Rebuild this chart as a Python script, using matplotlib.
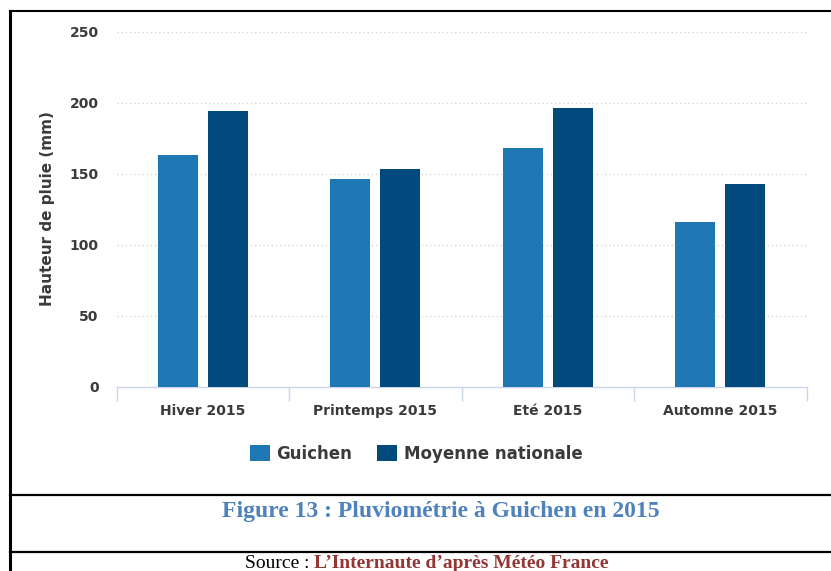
import matplotlib.pyplot as plt
import numpy as np
from matplotlib.lines import Line2D
import matplotlib.patches as mpatches

categories = ["Hiver 2015", "Printemps 2015", "Eté 2015", "Automne 2015"]
guichen = [163, 146, 168, 116]
moyenne = [194, 153, 196, 143]
series_names = ["Guichen", "Moyenne nationale"]
colors = ["#1f78b4", "#024a7d"]
yticks = [0, 50, 100, 150, 200, 250]

W, H = 831, 571
fig = plt.figure(figsize=(W / 100, H / 100), dpi=100)
font = "DejaVu Sans"
txtcol = "#3a3a3a"

ax = fig.add_axes([116.7 / W, 1 - 387 / H, 690 / W, 355.5 / H])
x = np.arange(len(categories))
bw = 40 / 172.5
off = 25 / 172.5
ax.bar(x - off, guichen, bw, color=colors[0], zorder=3)
ax.bar(x + off, moyenne, bw, color=colors[1], zorder=3)

ax.set_xlim(-0.5, len(categories) - 0.5)
ax.set_ylim(0, 250)
ax.set_yticks(yticks)
ax.set_yticklabels([str(v) for v in yticks], fontfamily=font, fontweight="bold",
                   fontsize=10, color=txtcol)
ax.tick_params(axis="y", length=0, pad=13)

ax.set_xticks(x)
ax.set_xticklabels(categories, fontfamily=font, fontweight="bold", fontsize=10,
                   color=txtcol)
ax.set_xticks(np.arange(len(categories) + 1) - 0.5, minor=True)
ax.tick_params(axis="x", which="major", length=0, pad=12)
ax.tick_params(axis="x", which="minor", length=10, color="#ccd6eb", width=1)

for v in yticks[1:]:
    ax.axhline(v, color="#d5d5d5", lw=1, ls=(0, (1, 2)), zorder=1)

for s in ["top", "right", "left"]:
    ax.spines[s].set_visible(False)
ax.spines["bottom"].set_color("#ccd6eb")
ax.spines["bottom"].set_linewidth(1)

fig.text(48 / W, 1 - 209 / H, "Hauteur de pluie (mm)", rotation=90,
         ha="center", va="center", fontfamily=font, fontweight="bold",
         fontsize=11, color=txtcol)

recs = [mpatches.Rectangle((0, 0), 1, 1, fc=c) for c in colors]
fig.legend(recs, series_names, loc="center", bbox_to_anchor=(416 / W, 1 - 454 / H),
           ncol=2, frameon=False, handlelength=1.2, handleheight=1.1,
           handletextpad=0.4, columnspacing=1.5, labelcolor=txtcol,
           prop={"family": font, "weight": "bold", "size": 12})

# frame lines
fig.add_artist(Line2D([10 / W, 1], [1 - 11 / H, 1 - 11 / H], color="black", lw=1.5))
fig.add_artist(Line2D([10 / W, 10 / W], [0, 1 - 11 / H], color="black", lw=2.2))
fig.add_artist(Line2D([10 / W, 1], [1 - 495 / H, 1 - 495 / H], color="black", lw=1.6))
fig.add_artist(Line2D([10 / W, 1], [1 - 552 / H, 1 - 552 / H], color="black", lw=1.6))

fig.text(441 / W, 1 - 512 / H, "Figure 13 : Pluviométrie à Guichen en 2015",
         ha="center", va="center", fontfamily="Liberation Serif", fontweight="bold",
         fontsize=17, color="#4f81bd")

t1 = fig.text(245 / W, 1 - 564 / H, "Source : ", ha="left", va="center",
              fontfamily="Liberation Serif", fontsize=14, color="black")
fig.canvas.draw()
bb = t1.get_window_extent()
fig.text(bb.x1 / W, 1 - 564 / H, "L\u2019Internaute d\u2019après Météo France",
         ha="left", va="center", fontfamily="Liberation Serif", fontweight="bold",
         fontsize=14, color="#943634")

fig.savefig("out.png", dpi=100)
